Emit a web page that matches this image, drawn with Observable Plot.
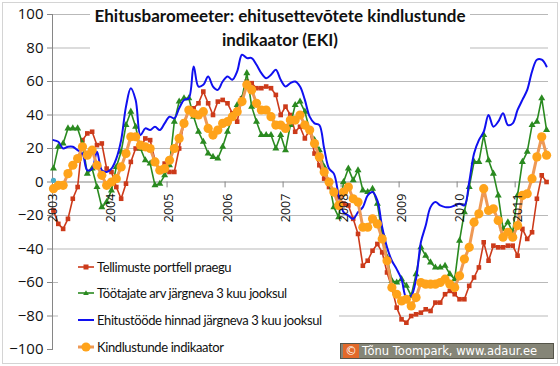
<!DOCTYPE html>
<html>
<head>
<meta charset="utf-8">
<script src="https://cdn.jsdelivr.net/npm/d3@7"></script>
<script src="https://cdn.jsdelivr.net/npm/@observablehq/plot@0.6"></script>
<style>
  html, body { margin: 0; padding: 0; background: #fff; }
  #wrap { position: relative; width: 560px; height: 366px; overflow: hidden; background: #fff; }
  #chart { position: absolute; left: 0; top: 0; }
  #border { position: absolute; left: 2px; top: 2px; width: 554px; height: 360px; border: 1px solid #d4d4d4; pointer-events: none; }
  #title { position: absolute; left: 90px; top: 4px; width: 380px; height: 46px; background: #fff;
           font-family: Lato, "Open Sans", sans-serif; font-weight: bold; font-size: 17px; line-height: 24px;
           text-align: center; color: #111; }
  #legend { position: absolute; left: 58px; top: 254px; width: 281px; height: 98px; background: #fff;
            font-family: Lato, "Open Sans", sans-serif; font-size: 13px; letter-spacing: -0.4px; color: #111; }
  .item { position: absolute; left: 0; height: 20px; }
  .item svg { position: absolute; left: 20px; top: 0; }
  .item span { position: absolute; left: 39px; top: 1px; white-space: nowrap; line-height: 18px; }
  #wm { position: absolute; left: 340px; top: 343px; width: 212px; height: 14px; background: #858577;
        border: 1px solid #55554a; font-family: "DejaVu Sans", sans-serif; font-size: 11.5px; color: #fff; line-height: 14px; }
  #wm .c { position: absolute; left: 2px; top: 0; width: 16px; height: 14px; background: #e2692a; text-align: center; }
  #wm .t { position: absolute; left: 21px; top: 0; white-space: nowrap; }
</style>
</head>
<body>
<div id="wrap">
  <div id="chart"></div>
  <div id="title">Ehitusbaromeeter: ehitusettevõtete kindlustunde<br>indikaator (EKI)</div>
  <div id="legend"></div>
  <div id="wm"><span class="c">©</span><span class="t">Tõnu Toompark, www.adaur.ee</span></div>
  <div id="border"></div>
</div>
<script>
// Monthly data, Jan 2003 .. Jul 2011 (index 0 = Jan 2003)
const yearLabels = ["2003","2004","2005","2006","2007","2008","2009","2010","2011"];
const yTicks = [-100,-80,-60,-40,-20,0,20,40,60,80,100];

const seriesNames = [
  "Tellimuste portfell praegu",
  "Töötajate arv järgneva 3 kuu jooksul",
  "Ehitustööde hinnad järgneva 3 kuu jooksul",
  "Kindlustunde indikaator"
];

const tellimused = [
  -17,-25,-28,-22,-10,-3,
  25,29,30,22,23,8,
  6,-3,-10,-1,12,20,
  20,26,25,13,7,11,
  6,6,20,36,43,44,
  47,54,47,40,48,49,
  47,41,36,50,60,59,
  56,56,57,56,52,40,
  45,40,30,33,26,31,
  17,10,2,-3,-5,-9,
  -13,-14,-22,-31,-50,-47,
  -41,-37,-42,-54,-63,-75,
  -82,-84,-80,-79,-78,-76,
  -77,-72,-72,-67,-65,-67,
  -70,-70,-62,-57,-51,-36,
  -47,-38,-39,-39,-38,-38,
  -44,-28,-34,-30,-10,4,0
];

const tootajad = [
  8,21,23,32,32,32,
  23,5,8,-3,-15,-12,
  -5,9,18,34,42,33,
  20,13,11,-2,-1,4,
  10,36,48,50,50,39,
  30,24,17,15,14,21,
  30,39,46,50,65,45,
  36,28,28,28,20,28,
  19,34,46,48,42,31,
  25,19,9,0,-15,-21,
  0,8,1,7,-5,-6,
  -4,-13,-31,-45,-59,-60,
  -58,-62,-68,-55,-39,-44,
  -48,-51,-51,-50,-55,-58,
  -35,-18,-3,12,12,28,
  13,5,-8,-28,-24,-30,
  -8,12,18,34,36,50,31
];

const hinnad = [
  25,24,20,21,21,19,
  17,7,8,18,7,6,
  8,14,25,45,56,49,
  28,32,31,33,31,35,
  39,38,44,49,50,69,
  57,58,63,57,55,60,
  63,61,66,76,74,74,
  70,65,62,64,67,61,
  57,59,60,57,49,39,
  35,34,20,8,5,-8,
  -18,-20,-22,-18,-15,-8,
  -6,-11,-27,-39,-47,-52,
  -58,-69,-68,-58,-36,-26,
  -15,-12,-14,-15,-15,-14,
  -13,-14,0,17,25,30,
  40,33,36,41,34,35,
  43,49,55,66,73,73,69
];

const eki = [
  -4,-2,-2,5,10,14,
  21,16,19,10,4,-2,
  0,2,9,17,27,27,
  22,21,20,12,7,8,
  13,20,26,35,43,41,
  40,42,32,28,31,35,
  36,39,42,48,58,55,
  47,43,43,39,34,34,
  32,37,37,40,34,31,
  23,15,6,0,-6,-14,
  -6,-3,-10,-12,-27,-27,
  -22,-25,-34,-47,-63,-67,
  -71,-70,-74,-69,-60,-61,
  -61,-61,-60,-58,-61,-63,
  -56,-46,-39,-24,-19,-4,
  -17,-16,-23,-33,-30,-33,
  -26,-8,-7,2,15,27,16
];

// stray single point of an extra series at the first month
const extraSeries = [1];

const colors = {
  red: "#cc3a1a", redLine: "#cc3a1a",
  green: "#2a8a20",
  blue: "#1010f0",
  orange: "#ffa31a", orangeLine: "#ee9955",
  extra: "#4bacc6"
};

const toRows = arr => arr.map((v, i) => ({i, v}));
const R = toRows(tellimused), G = toRows(tootajad), B = toRows(hinnad), O = toRows(eki), X = toRows(extraSeries);
const yearRows = yearLabels.map((label, k) => ({i: k * 12, label}));
const yearTicks = yearLabels.slice(1).map((l, k) => ({i: (k + 1) * 12 - 0.5}));
const gridVals = yTicks.filter(v => v !== 0 && v !== -100);

const chart = Plot.plot({
  width: 560, height: 366,
  marginLeft: 52, marginRight: 12, marginTop: 14, marginBottom: 17,
  style: {fontFamily: "'Open Sans', sans-serif", background: "transparent"},
  x: {domain: [-0.2, tellimused.length - 1 + 0.4], axis: null},
  y: {domain: [-100, 100], axis: null},
  marks: [
    Plot.ruleY(gridVals, {stroke: "#b9b9b9", strokeWidth: 1}),
    Plot.ruleY([0], {stroke: "#868686", strokeWidth: 1}),
    Plot.frame({anchor: "left", stroke: "#868686"}),
    Plot.axisY(yTicks, {label: null, tickSize: 5, tickPadding: 4, fontSize: 15, stroke: "#868686", fill: "#111"}),
    Plot.ruleX(yearTicks, {x: "i", y1: 0, y2: -3.5, stroke: "#868686"}),
    Plot.line(R, {x: "i", y: "v", stroke: colors.redLine, strokeWidth: 1.6}),
    Plot.dot(R, {x: "i", y: "v", symbol: "square", r: 2.6, fill: colors.red}),
    Plot.line(G, {x: "i", y: "v", stroke: colors.green, strokeWidth: 1.6}),
    Plot.dot(G, {x: "i", y: "v", symbol: "triangle", r: 2.6, fill: colors.green}),
    Plot.line(B, {x: "i", y: "v", stroke: colors.blue, strokeWidth: 2, curve: "catmull-rom"}),
    Plot.line(O, {x: "i", y: "v", stroke: colors.orangeLine, strokeWidth: 3}),
    Plot.dot(O, {x: "i", y: "v", r: 4.6, fill: colors.orange}),
    Plot.dot(X, {x: "i", y: "v", r: 2.6, fill: colors.extra}),
    Plot.text(yearRows, {x: "i", y: -24, text: "label", rotate: -90, textAnchor: "start", lineAnchor: "middle", fontSize: 12.5, fill: "#111"})
  ]
});
document.getElementById("chart").appendChild(chart);

// Legend
const legend = document.getElementById("legend");
const legendItems = [
  {name: seriesNames[0], line: colors.redLine, w: 1.6, sym: "square", fill: colors.red},
  {name: seriesNames[1], line: colors.green, w: 1.6, sym: "triangle", fill: colors.green},
  {name: seriesNames[2], line: colors.blue, w: 2, sym: null},
  {name: seriesNames[3], line: colors.orangeLine, w: 3, sym: "circle", fill: colors.orange}
];
const tops = [3, 29, 56, 83];
legendItems.forEach((d, k) => {
  const div = document.createElement("div");
  div.className = "item";
  div.style.top = tops[k] + "px";
  let sym = "";
  if (d.sym === "square") sym = `<rect x="5.5" y="7.5" width="5" height="5" fill="${d.fill}"/>`;
  if (d.sym === "triangle") sym = `<path d="M8,7.2 L10.8,12 L5.2,12 Z" fill="${d.fill}"/>`;
  if (d.sym === "circle") sym = `<circle cx="8" cy="10" r="4.6" fill="${d.fill}"/>`;
  div.innerHTML = `<svg width="18" height="20"><line x1="0" x2="16" y1="10" y2="10" stroke="${d.line}" stroke-width="${d.w}"/>${sym}</svg><span>${d.name}</span>`;
  legend.appendChild(div);
});
</script>
</body>
</html>
